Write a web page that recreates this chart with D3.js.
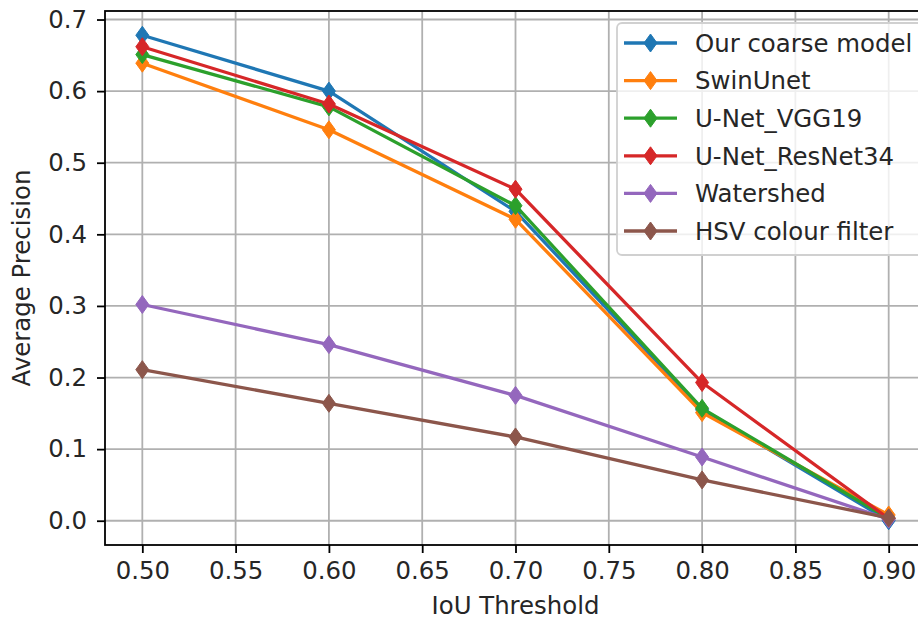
<!DOCTYPE html>
<html><head><meta charset="utf-8">
<script src="https://cdn.jsdelivr.net/npm/d3@7"></script>
<style>html,body{margin:0;padding:0;background:#fff;overflow:hidden}svg{display:block}</style>
</head><body><svg id="c" width="918" height="624"></svg>
<script>
const thresholds = [0.5, 0.6, 0.7, 0.8, 0.9];
const seriesNames = ["Our coarse model", "SwinUnet", "U-Net_VGG19", "U-Net_ResNet34", "Watershed", "HSV colour filter"];
const coarse   = [0.678, 0.600, 0.432, 0.155, 0.000];
const swinUnet = [0.639, 0.546, 0.421, 0.151, 0.008];
const vgg19    = [0.651, 0.578, 0.440, 0.157, 0.003];
const resnet34 = [0.662, 0.582, 0.463, 0.193, 0.003];
const watershed= [0.302, 0.246, 0.175, 0.089, 0.002];
const hsv      = [0.211, 0.164, 0.117, 0.057, 0.004];
const colors = ["#1f77b4", "#ff7f0e", "#2ca02c", "#d62728", "#9467bd", "#8c564b"];
const xTicks = [0.50, 0.55, 0.60, 0.65, 0.70, 0.75, 0.80, 0.85, 0.90];
const yTicks = [0.0, 0.1, 0.2, 0.3, 0.4, 0.5, 0.6, 0.7];

const allSeries = [coarse, swinUnet, vgg19, resnet34, watershed, hsv];
const svg = d3.select("#c");
const L = 105, R = 926, T = 11, B = 545;
const FONT = "DejaVu Sans", FS = 24.4;
const x = d3.scaleLinear().domain([0.48, 0.92]).range([L, R]);
const y = d3.scaleLinear().domain([-0.0339, 0.7119]).range([B, T]);

// grid
const g = svg.append("g");
g.selectAll(".gx").data(xTicks).enter().append("line")
 .attr("x1", d=>x(d)).attr("x2", d=>x(d)).attr("y1", T).attr("y2", B)
 .attr("stroke", "#b0b0b0").attr("stroke-width", 1.8);
g.selectAll(".gy").data(yTicks).enter().append("line")
 .attr("y1", d=>y(d)).attr("y2", d=>y(d)).attr("x1", L).attr("x2", R)
 .attr("stroke", "#b0b0b0").attr("stroke-width", 1.8);

// series
const line = d3.line().x((d,i)=>x(thresholds[i])).y(d=>y(d));
const diamond = "M0,-9L6.5,0L0,9L-6.5,0Z";
allSeries.forEach((s, k) => {
  svg.append("path").datum(s).attr("d", line).attr("fill", "none")
    .attr("stroke", colors[k]).attr("stroke-width", 3.3).attr("stroke-linejoin", "round");
  svg.selectAll(".m"+k).data(s).enter().append("path")
    .attr("d", diamond).attr("transform", (d,i)=>`translate(${x(thresholds[i])},${y(d)})`)
    .attr("fill", colors[k]).attr("stroke", colors[k]).attr("stroke-width", 1);
});

// axes
const xAxis = d3.axisBottom(x).tickValues(xTicks).tickFormat(d3.format(".2f")).tickSizeInner(8).tickSizeOuter(0).tickPadding(5);
const yAxis = d3.axisLeft(y).tickValues(yTicks).tickFormat(d3.format(".1f")).tickSizeInner(8).tickSizeOuter(0).tickPadding(10);
const gx = svg.append("g").attr("transform", `translate(0,${B})`).call(xAxis);
const gy = svg.append("g").attr("transform", `translate(${L},0)`).call(yAxis);
[gx, gy].forEach(a => {
  a.select(".domain").remove();
  a.selectAll("line").attr("stroke", "#000").attr("stroke-width", 1.8);
  a.selectAll("text").attr("font-family", FONT).attr("font-size", FS).attr("fill", "#262626");
});
gx.selectAll("text").attr("dy", "0.85em");
// spines
svg.append("rect").attr("x", L).attr("y", T).attr("width", R-L).attr("height", B-T)
  .attr("fill", "none").attr("stroke", "#000").attr("stroke-width", 1.8);

// axis labels
svg.append("text").attr("x", (L+R)/2).attr("y", 614).attr("text-anchor", "middle")
  .attr("font-family", FONT).attr("font-size", FS).attr("fill", "#262626").text("IoU Threshold");
svg.append("text").attr("transform", `translate(30,${(T+B)/2}) rotate(-90)`).attr("text-anchor", "middle")
  .attr("font-family", FONT).attr("font-size", FS).attr("fill", "#262626").text("Average Precision");

// legend
const lg = svg.append("g");
lg.append("rect").attr("x", 617).attr("y", 23).attr("width", 310).attr("height", 232).attr("rx", 5)
  .attr("fill", "#fff").attr("fill-opacity", 0.8).attr("stroke", "#d0d0d0").attr("stroke-width", 1.8);
seriesNames.forEach((n, k) => {
  const cy = 43 + k*37.6;
  lg.append("line").attr("x1", 624).attr("x2", 677).attr("y1", cy).attr("y2", cy)
    .attr("stroke", colors[k]).attr("stroke-width", 3.3);
  lg.append("path").attr("d", diamond).attr("transform", `translate(650.5,${cy})`)
    .attr("fill", colors[k]).attr("stroke", colors[k]).attr("stroke-width", 1);
  lg.append("text").attr("x", 695).attr("y", cy).attr("dy", "0.36em")
    .attr("font-family", FONT).attr("font-size", FS).attr("fill", "#262626").text(n);
});
</script></body></html>
